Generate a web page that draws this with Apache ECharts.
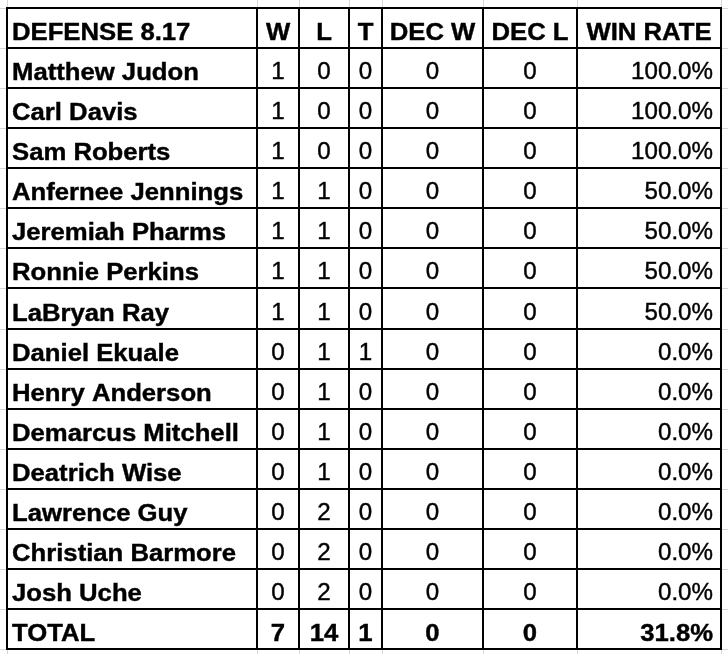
<!DOCTYPE html>
<html>
<head>
<meta charset="utf-8">
<script src="https://cdn.jsdelivr.net/npm/echarts@6/dist/echarts.min.js"></script>
<style>
  html, body { margin: 0; padding: 0; background: #fff; }
  #chart { width: 728px; height: 654px; }
</style>
</head>
<body>
<div id="chart"></div>
<script>
// table data
const headers = ['DEFENSE 8.17', 'W', 'L', 'T', 'DEC W', 'DEC L', 'WIN RATE']
const players = [
  'Matthew Judon', 'Carl Davis', 'Sam Roberts', 'Anfernee Jennings',
  'Jeremiah Pharms', 'Ronnie Perkins', 'LaBryan Ray', 'Daniel Ekuale',
  'Henry Anderson', 'Demarcus Mitchell', 'Deatrich Wise', 'Lawrence Guy',
  'Christian Barmore', 'Josh Uche'
]
const wins      = [1, 1, 1, 1, 1, 1, 1, 0, 0, 0, 0, 0, 0, 0]
const losses    = [0, 0, 0, 1, 1, 1, 1, 1, 1, 1, 1, 2, 2, 2]
const ties      = [0, 0, 0, 0, 0, 0, 0, 1, 0, 0, 0, 0, 0, 0]
const decWins   = [0, 0, 0, 0, 0, 0, 0, 0, 0, 0, 0, 0, 0, 0]
const decLosses = [0, 0, 0, 0, 0, 0, 0, 0, 0, 0, 0, 0, 0, 0]
const winRates  = [100, 100, 100, 50, 50, 50, 50, 0, 0, 0, 0, 0, 0, 0]
const totalRow  = ['TOTAL', 7, 14, 1, 0, 0, 31.8]

// column widths in px (layout only)
const colWidths = [250, 42, 50, 33, 101, 94, 144]
const colAlign = ['left', 'center', 'center', 'center', 'center', 'center', 'right']

const colEdges = [0]
colWidths.forEach(w => colEdges.push(colEdges[colEdges.length - 1] + w))
const tableWidth = colEdges[colEdges.length - 1]

const fmtRate = v => v.toFixed(1) + '%'

// rows of strings: header, players, total
const rows = [headers]
players.forEach((p, i) => {
  rows.push([p, wins[i], losses[i], ties[i], decWins[i], decLosses[i], fmtRate(winRates[i])].map(String))
})
rows.push(totalRow.map((v, i) => i === 6 ? fmtRate(v) : String(v)))

const rowNames = rows.map(r => r[0])
const lastRow = rows.length - 1

const cellData = []
rows.forEach((r, ri) => {
  r.forEach((t, ci) => {
    cellData.push([colEdges[ci], colEdges[ci + 1], ri, ci])
  })
})

const gridData = []
colEdges.forEach(e => gridData.push([e, 0, 0, 0]))
for (let r = 0; r <= rows.length; r++) {
  gridData.push([0, Math.min(r, lastRow), 1, r > lastRow ? 1 : 0])
}

const BOLD = 'bold 24px "Liberation Sans", Arial, sans-serif'
const REG = '23px "Liberation Sans", Arial, sans-serif'

const chart = echarts.init(document.getElementById('chart'))

chart.setOption({
  backgroundColor: '#fff',
  animation: false,
  grid: { left: 7, top: 8, width: tableWidth, height: 641 },
  xAxis: { type: 'value', min: 0, max: tableWidth, show: false },
  yAxis: { type: 'category', data: rowNames, inverse: true, show: false },
  series: [
    {
      // spreadsheet gridlines in the background
      type: 'custom',
      silent: true,
      clip: false,
      z: 1,
      data: gridData,
      encode: { x: 0, y: 1 },
      renderItem: (params, api) => {
        const W = api.getWidth(), H = api.getHeight()
        const p = api.coord([api.value(0), api.value(1)])
        const h = api.size([0, 1])[1]
        const style = { stroke: '#d6d6d6', lineWidth: 1 }
        if (api.value(2) === 0) {
          const x = Math.round(p[0]) + 0.5
          return { type: 'line', shape: { x1: x, y1: 0, x2: x, y2: H }, style }
        }
        const y = Math.round(p[1] + (api.value(3) ? h / 2 : -h / 2)) + 0.5
        return { type: 'line', shape: { x1: 0, y1: y, x2: W, y2: y }, style }
      }
    },
    {
      type: 'custom',
      silent: true,
      clip: false,
      z: 2,
      data: cellData,
      encode: { x: [0, 1], y: 2 },
      renderItem: (params, api) => {
        const ri = api.value(2), ci = api.value(3)
        const p0 = api.coord([api.value(0), ri])
        const p1 = api.coord([api.value(1), ri])
        const h = api.size([0, 1])[1]
        const top = Math.round(p0[1] - h / 2)
        const bottom = Math.round(p0[1] + h / 2)
        const bold = ri === 0 || ri === lastRow || ci === 0
        const align = ri === 0 && ci > 0 ? 'center' : colAlign[ci]
        let tx = (p0[0] + p1[0]) / 2
        if (align === 'left') tx = p0[0] + 5
        if (align === 'right') tx = p1[0] - 8
        return {
          type: 'group',
          children: [
            {
              type: 'rect',
              shape: { x: p0[0], y: top, width: p1[0] - p0[0], height: bottom - top },
              style: { fill: 'none', stroke: '#000', lineWidth: 2 }
            },
            {
              type: 'text',
              x: tx,
              y: bottom - 15,
              scaleX: bold ? 1.07 : 1.05,
              style: {
                text: rows[ri][ci],
                font: bold ? BOLD : REG,
                fill: '#000',
                stroke: '#000',
                lineWidth: 0.4,
                align: align,
                verticalAlign: 'middle'
              }
            }
          ]
        }
      }
    }
  ]
})
</script>
</body>
</html>
